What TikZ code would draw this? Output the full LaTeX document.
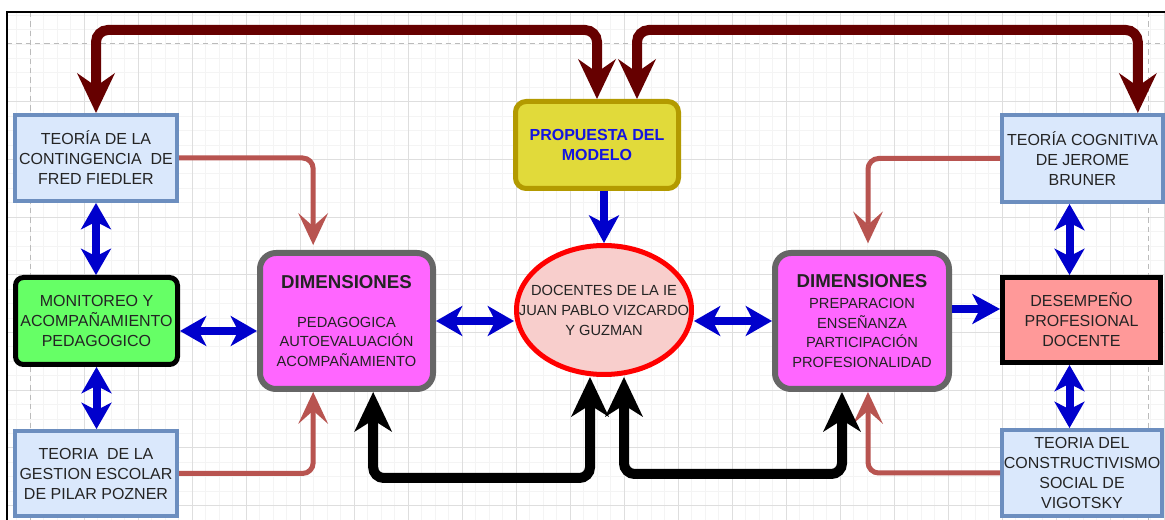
\documentclass[tikz,border=0pt]{standalone}
\usepackage{fontspec}
\setmainfont{Liberation Sans}
\usetikzlibrary{arrows.meta,shapes.geometric,calc}
\definecolor{dred}{HTML}{660000}
\definecolor{salm}{HTML}{B85450}
\definecolor{bl}{HTML}{0000CC}
\definecolor{thfill}{HTML}{DAE8FC}
\definecolor{thdraw}{HTML}{6C8EBF}
\definecolor{grn}{HTML}{66FF66}
\definecolor{mag}{HTML}{FF66FF}
\definecolor{dimdraw}{HTML}{666666}
\definecolor{yel}{HTML}{E1DA3A}
\definecolor{yeldraw}{HTML}{B39A00}
\definecolor{pinkf}{HTML}{F8CECC}
\definecolor{desf}{HTML}{FF9999}
\definecolor{txt}{HTML}{242424}
\definecolor{ptxt}{HTML}{1414E0}
\definecolor{gminor}{HTML}{F4F4F4}
\definecolor{gmajor}{HTML}{DEDEDE}
\definecolor{gdash}{HTML}{BBBBBB}
\tikzset{
  base/.style={inner sep=0pt, align=center, text=txt, font=\fontsize{12}{15}\selectfont},
  theory/.style={base, draw=thdraw, fill=thfill, line width=3pt},
  monst/.style={base, draw=black, fill=grn, line width=3.75pt, rounded corners=6pt},
  dimst/.style={base, draw=dimdraw, fill=mag, line width=4.5pt, rounded corners=12pt, font=\fontsize{11}{14.6}\selectfont},
  propst/.style={base, draw=yeldraw, fill=yel, line width=3.75pt, rounded corners=8pt, text=ptxt, font=\bfseries\fontsize{12}{15}\selectfont},
  docst/.style={ellipse, draw=red, fill=pinkf, line width=3.75pt, inner sep=0pt},
  doclab/.style={base, font=\fontsize{11}{15}\selectfont},
  desst/.style={base, draw=black, fill=desf, line width=3.75pt},
  dredarr/.style={draw=dred, line width=7.5pt, rounded corners=9pt,
    {Stealth[length=30pt,width=28.5pt,inset=10pt,line width=0pt]}-{Stealth[length=30pt,width=28.5pt,inset=10pt,line width=0pt]}},
  salarr/.style={draw=salm, line width=3.75pt, rounded corners=8pt,
    -{Stealth[length=24pt,width=22.5pt,inset=10pt,line width=0pt]}},
  blkarr/.style={draw=black, line width=7.5pt, rounded corners=8pt,
    {Stealth[length=30pt,width=28.5pt,inset=9pt,line width=0pt]}-{Stealth[length=30pt,width=28.5pt,inset=9pt,line width=0pt]}},
  bluedbl/.style={draw=bl, line width=6pt,
    {Stealth[length=20pt,width=23pt,inset=6pt,line width=0pt]}-{Stealth[length=20pt,width=23pt,inset=6pt,line width=0pt]}},
  bluesgl/.style={draw=bl, line width=5.5pt,
    -{Stealth[length=21pt,width=23pt,inset=6pt,line width=0pt]}},
}
\newcommand{\dimhead}{{\bfseries\fontsize{14}{14.6}\selectfont DIMENSIONES}}
\begin{document}
\begin{tikzpicture}[x=0.75pt,y=-0.75pt]
\useasboundingbox (0,0) rectangle (1165,520);
\fill[white] (0,0) rectangle (1165,520);
% grid
\begin{scope}
\clip (7,12) rectangle (1165,520);
\foreach \i in {0,...,86} \draw[gminor, line width=0.6pt] ({3+13.5*\i},12) -- ({3+13.5*\i},520);
\foreach \i in {0,...,35} \draw[gminor, line width=0.6pt] (7,{15.2+14.42*\i}) -- (1165,{15.2+14.42*\i});
\foreach \i in {1,...,21} \draw[gmajor, line width=0.75pt] ({30+54*\i},12) -- ({30+54*\i},520);
\foreach \i in {1,...,8} \draw[gmajor, line width=0.75pt] (7,{44+57.7*\i}) -- (1165,{44+57.7*\i});
\draw[gdash, line width=0.75pt, dash pattern=on 4pt off 3pt] (30,12) -- (30,520);
\draw[gdash, line width=0.75pt, dash pattern=on 4pt off 3pt] (1148,12) -- (1148,520);
\draw[gdash, line width=0.75pt, dash pattern=on 4pt off 3pt] (7,44) -- (1165,44);
\end{scope}
\draw[black, line width=1.5pt] (7,520) -- (7,12) -- (1165,12);
% nodes
\node[theory, minimum width=121.5pt, minimum height=64.5pt] (fied) at (96,158)
  {TEORÍA DE LA\\CONTINGENCIA\ \ DE\\FRED FIEDLER};
\node[monst, minimum width=121.5pt, minimum height=65.25pt] (mon) at (96.5,321)
  {MONITOREO Y\\ACOMPAÑAMIENTO\\PEDAGOGICO};
\node[theory, minimum width=121.5pt, minimum height=63.75pt] (poz) at (96,473.5)
  {TEORIA\ \ DE LA\\GESTION ESCOLAR\\DE PILAR POZNER};
\node[dimst, minimum width=129.75pt, minimum height=102pt] (diml) at (346.5,321)
  {\dimhead\\[14.6pt]PEDAGOGICA\\AUTOEVALUACIÓN\\ACOMPAÑAMIENTO};
\node[propst, minimum width=122.25pt, minimum height=65.25pt] (prop) at (597,145)
  {PROPUESTA DEL\\MODELO};
\node[docst, minimum width=131.25pt, minimum height=96.75pt,
  label={[doclab]center:{DOCENTES DE LA IE\\JUAN PABLO VIZCARDO\\Y GUZMAN}}] (doc) at (604,310) {};
\node[dimst, minimum width=130.5pt, minimum height=102pt] (dimr) at (862,321)
  {\dimhead\\[1.5pt]PREPARACION\\ENSEÑANZA\\PARTICIPACIÓN\\PROFESIONALIDAD};
\node[desst, minimum width=118.5pt, minimum height=63.75pt] (des) at (1081.5,320)
  {DESEMPEÑO\\PROFESIONAL\\DOCENTE};
\node[theory, minimum width=120.75pt, minimum height=65.25pt] (brun) at (1082.5,158.5)
  {TEORÍA COGNITIVA\\DE JEROME\\BRUNER};
\node[theory, minimum width=120pt, minimum height=64.5pt] (vig) at (1082,473)
  {TEORIA DEL\\CONSTRUCTIVISMO\\SOCIAL DE\\VIGOTSKY};
% coordinates
\coordinate (ytop) at (0,30);
\coordinate (yb1) at (0,478);
\coordinate (yb2) at (0,474);
\coordinate (propR) at ([xshift=30pt]prop.north);
\coordinate (brunR) at ([xshift=41.5pt]brun.north);
% dark red
\draw[dredarr] (fied.north) -- (fied.north |- ytop) -- (prop.north |- ytop) -- (prop.north);
\draw[dredarr] (propR) -- (propR |- ytop) -- (brunR |- ytop) -- (brunR);
% salmon
\draw[salarr] (fied.east) -| ([xshift=-25pt,yshift=3.75pt]diml.north);
\draw[salarr] (poz.east) -| ([xshift=-25pt]diml.south);
\draw[salarr] (brun.west) -| ([xshift=4.5pt,yshift=5pt]dimr.north);
\draw[salarr] (vig.west) -| ([xshift=4.5pt]dimr.south);
% black
\draw[blkarr] ([xshift=20pt]diml.south) -- ([xshift=20pt]diml.south |- yb1) -| ([xshift=-10.5pt]doc.south);
\draw[blkarr] ([xshift=15pt]doc.south) -- ([xshift=15pt]doc.south |- yb2) -| ([xshift=-15pt]dimr.south);
% blue
\draw[bluedbl] (fied.south) -- (fied.south |- mon.north);
\draw[bluedbl] (mon.south) -- (mon.south |- poz.north);
\draw[bluedbl] ([yshift=-7.5pt]mon.east) -- ([yshift=-7.5pt]mon.east -| diml.west);
\draw[bluedbl] (diml.east) -- (diml.east -| doc.west);
\draw[bluedbl] (dimr.west) -- (dimr.west -| doc.east);
\draw[bluesgl] ([yshift=9pt]dimr.east) -- ([yshift=9pt]dimr.east -| des.west);
\draw[bluedbl] ([xshift=-9pt]des.north) -- ([xshift=-9pt]des.north |- brun.south);
\draw[bluedbl] ([xshift=-9pt]des.south) -- ([xshift=-9pt]des.south |- vig.north);
\draw[bluesgl] (prop.south -| doc.north) -- (doc.north);
\end{tikzpicture}
\end{document}
